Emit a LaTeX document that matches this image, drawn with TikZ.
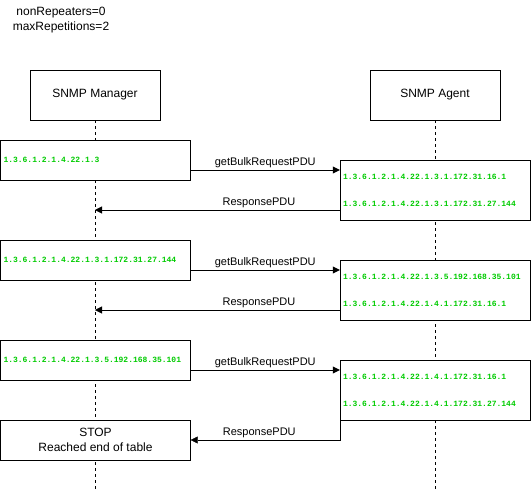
\documentclass[tikz,border=0pt]{standalone}
\usepackage{fontspec}
\setmainfont{Liberation Sans}
\newfontfamily\oidfont{Liberation Mono}
\usetikzlibrary{
	arrows.meta,
	positioning,
}
\definecolor{oidgreen}{RGB}{0,204,0}
\tikzset{actor/.style={draw,fill=white,minimum width=130pt,minimum height=50pt,inner sep=0pt,font=\fontsize{12}{14}\selectfont}}
\tikzset{oid box/.style={draw,fill=white,text width=184pt,align=left,inner sep=3pt,font=\oidfont\bfseries\fontsize{8}{27}\selectfont,text=oidgreen}}
\tikzset{stop box/.style={draw,fill=white,minimum width=190pt,minimum height=40pt,inner sep=0pt,align=center,font=\fontsize{12}{15}\selectfont}}
\tikzset{msg/.style={->,font=\fontsize{11}{13}\selectfont}}
\tikzset{msg label/.style={above,inner sep=2pt}}
\tikzset{lifeline/.style={dash pattern=on 3pt off 3pt}}
\tikzset{
	>={Triangle[length=7pt,width=7pt]},
	line width=0.8pt,
}
\begin{document}
\begin{tikzpicture}[x=1pt,y=-1pt]
\useasboundingbox (0,0) rectangle (531,491);

\node[align=center,font=\fontsize{12}{15}\selectfont] (params) at (61,20.5) {nonRepeaters=0\\maxRepetitions=2};

\node[actor] (mgr) at (95,95) {SNMP Manager};
\node[actor] (agt) at (435,95) {SNMP Agent};
\coordinate (mgr end) at (95,491);
\coordinate (agt end) at (435,491);

\draw[lifeline] (mgr) -- (mgr end);
\draw[lifeline] (agt) -- (agt end);

% first request
\node[oid box,minimum height=40pt] (q1) at (95.5,160) {1.3.6.1.2.1.4.22.1.3};
\node[oid box,minimum height=60pt] (r1) at (435,190) {1.3.6.1.2.1.4.22.1.3.1.172.31.16.1\\1.3.6.1.2.1.4.22.1.3.1.172.31.27.144};
\draw[msg] ([yshift=-10pt]q1.east) -- ([yshift=-10pt]q1.east -| r1.west) node[midway,msg label] {getBulkRequestPDU};
\draw[msg] ([yshift=-20pt]r1.west) -- ([yshift=-20pt]r1.west -| mgr) node[pos=0.33,msg label] {ResponsePDU};

% second request
\node[oid box,minimum height=40pt] (q2) at (95.5,260) {1.3.6.1.2.1.4.22.1.3.1.172.31.27.144};
\node[oid box,minimum height=60pt] (r2) at (435,290) {1.3.6.1.2.1.4.22.1.3.5.192.168.35.101\\1.3.6.1.2.1.4.22.1.4.1.172.31.16.1};
\draw[msg] ([yshift=-10pt]q2.east) -- ([yshift=-10pt]q2.east -| r2.west) node[midway,msg label] {getBulkRequestPDU};
\draw[msg] ([yshift=-20pt]r2.west) -- ([yshift=-20pt]r2.west -| mgr) node[pos=0.33,msg label] {ResponsePDU};

% third request
\node[oid box,minimum height=40pt] (q3) at (95.5,360) {1.3.6.1.2.1.4.22.1.3.5.192.168.35.101};
\node[oid box,minimum height=60pt] (r3) at (435,390) {1.3.6.1.2.1.4.22.1.4.1.172.31.16.1\\1.3.6.1.2.1.4.22.1.4.1.172.31.27.144};
\node[stop box] (stop) at (95.5,440) {STOP\\Reached end of table};
\draw[msg] ([yshift=-10pt]q3.east) -- ([yshift=-10pt]q3.east -| r3.west) node[midway,msg label] {getBulkRequestPDU};
\draw[msg] (r3.south west) |- (stop.east) node[pos=0.77,msg label] {ResponsePDU};
\end{tikzpicture}
\end{document}
